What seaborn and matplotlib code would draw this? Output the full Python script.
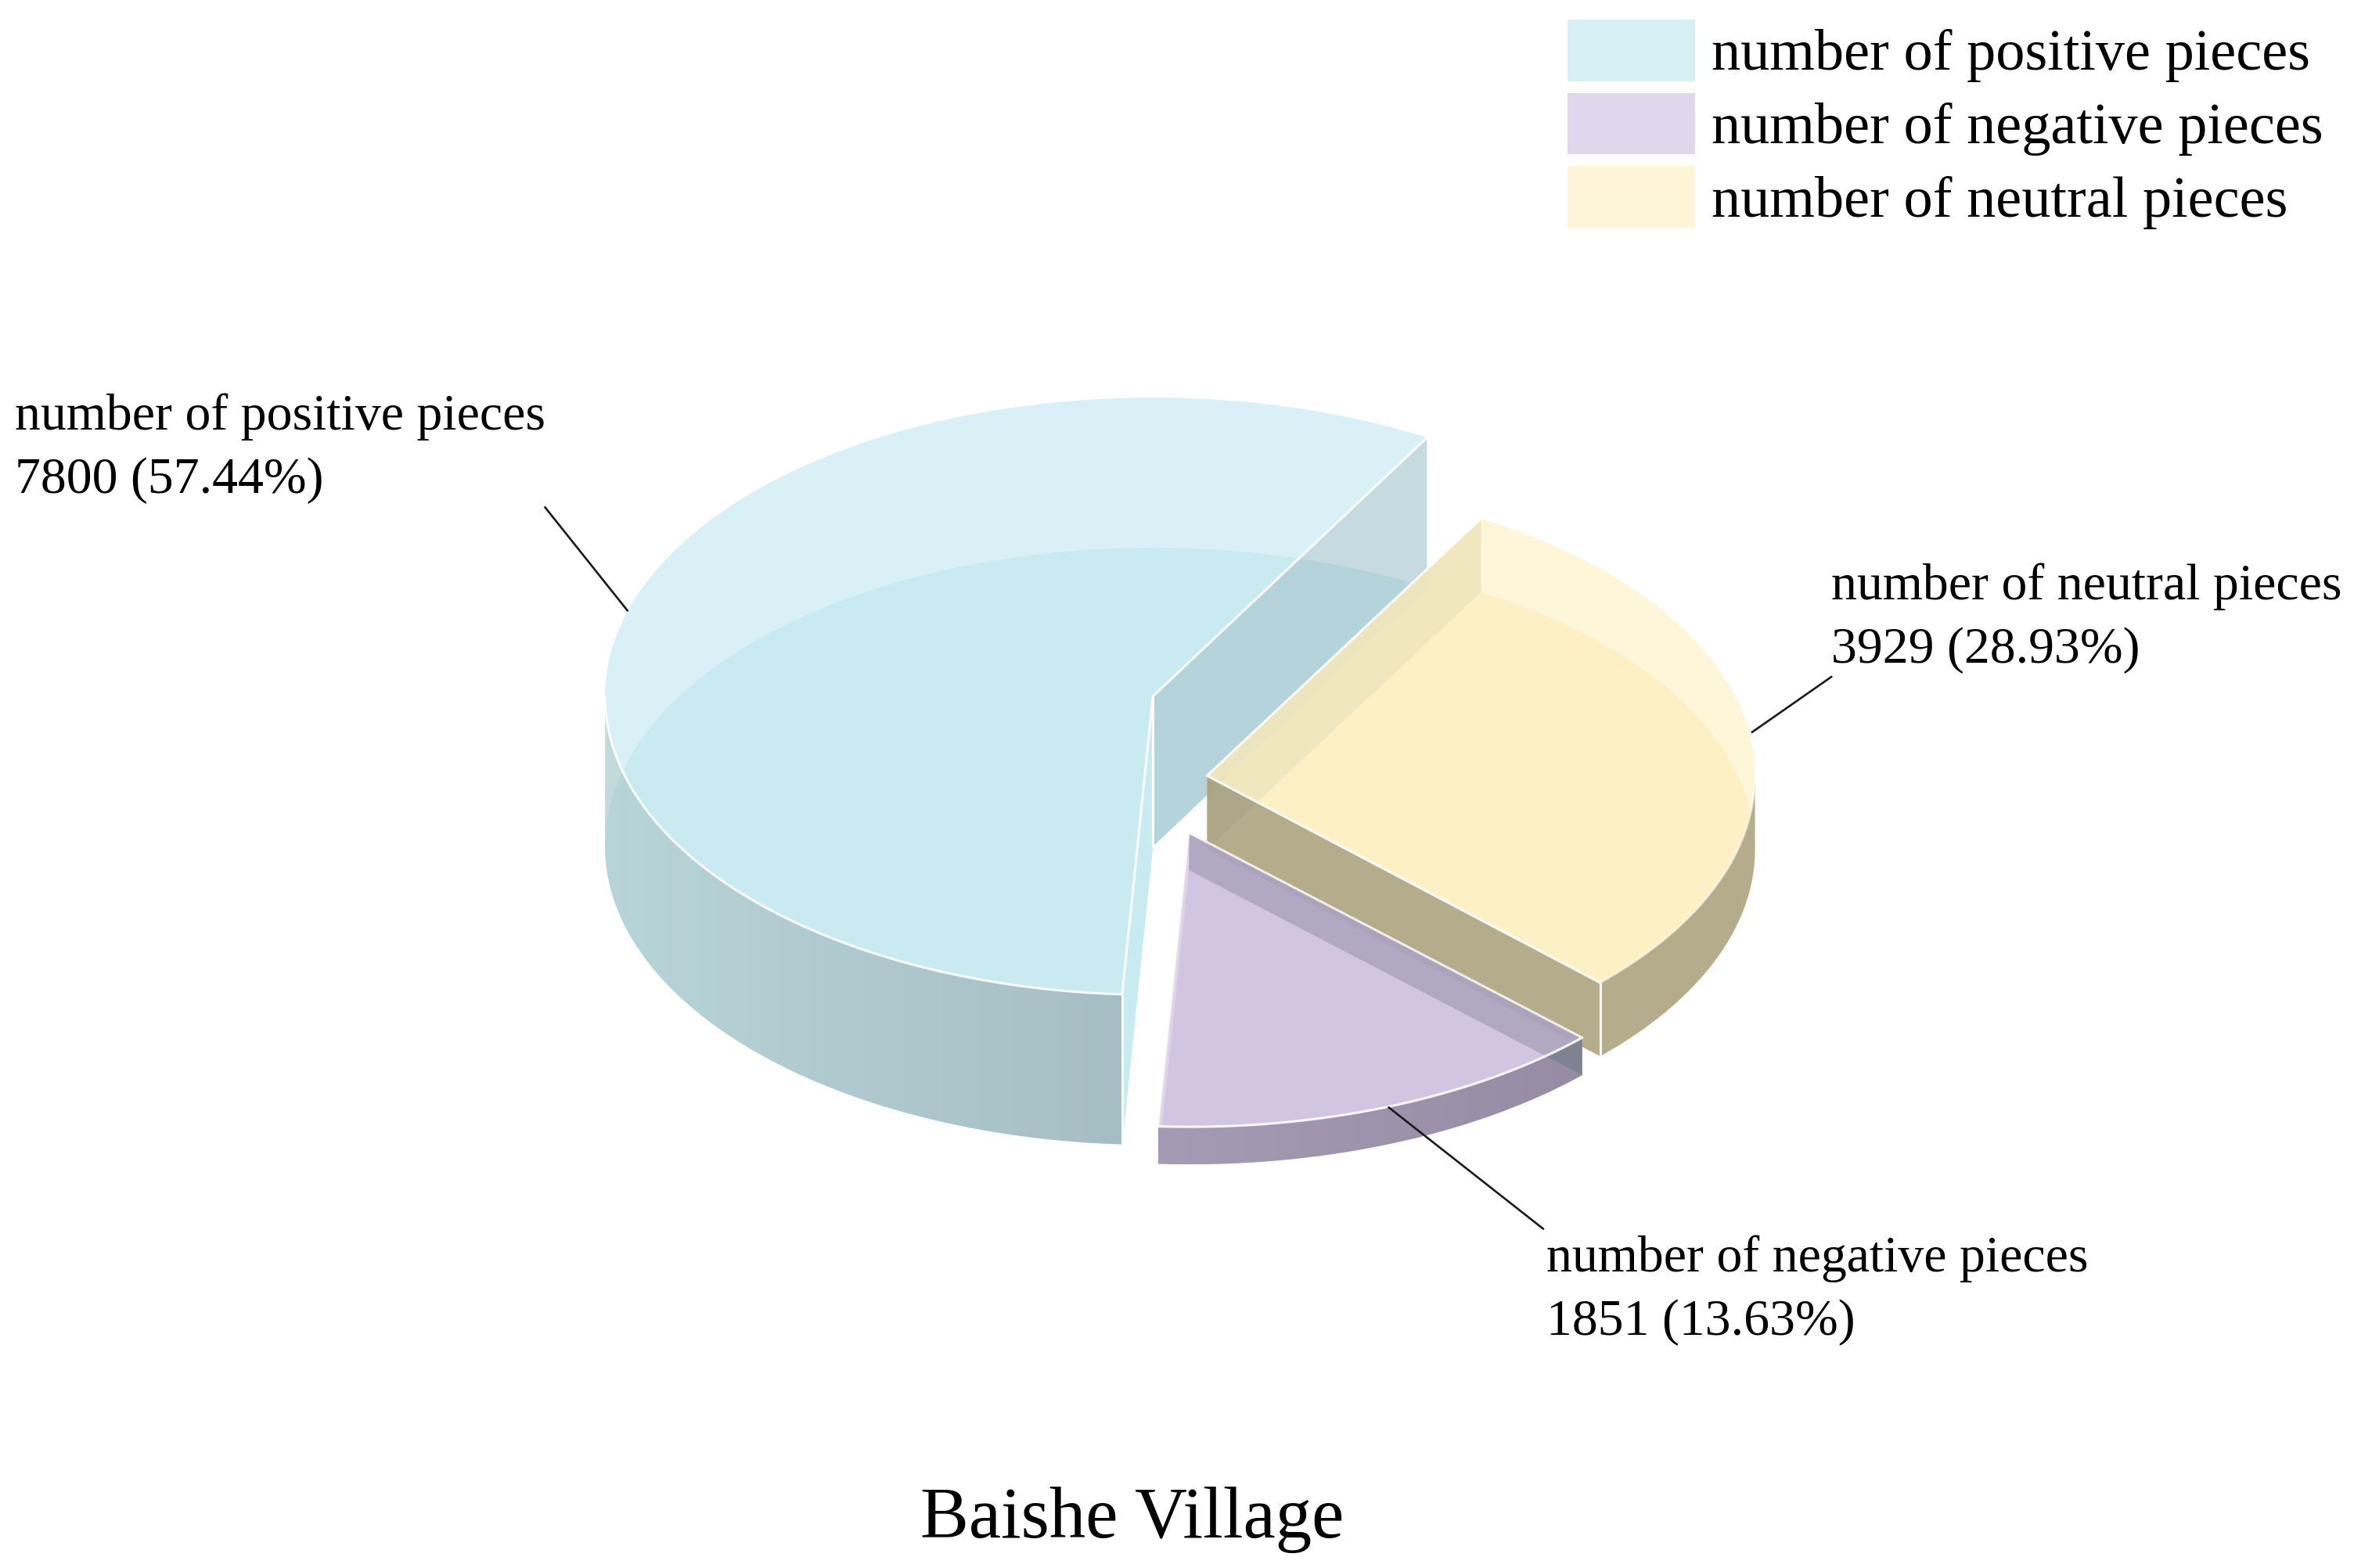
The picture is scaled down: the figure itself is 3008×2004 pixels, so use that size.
import numpy as np
import matplotlib
matplotlib.use("Agg")
import matplotlib.pyplot as plt
from matplotlib.patches import Patch, Polygon
import seaborn as sns

# chart values
categories = ["number of positive pieces", "number of negative pieces", "number of neutral pieces"]
counts = [7800, 1851, 3929]
title = "Baishe Village"
legend_colors = ["#d6f0f4", "#e0d7ec", "#fef5d8"]

sns.set_theme(style="white")
plt.rcParams["font.family"] = ["Liberation Serif", "DejaVu Serif"]

# layout works in the units of the shrunk picture (1568 wide)
RX = 365
START = 60.0
# x, y of the slice tip and the vertical radius of its ellipse
centers = [(768, 464, 199), (792, 555, 196), (804, 517, 198)]
depths = [100, 25, 49]


def rgb(*c):
    return tuple(v / 255 for v in c)


def on_arc(center, angle):
    t = np.radians(angle)
    return np.column_stack([center[0] + RX * np.cos(t), center[1] - center[2] * np.sin(t)])


def arc(center, a0, a1, n=160):
    return on_arc(center, np.linspace(a0, a1, n))


def sector(center, a0, a1):
    return np.vstack([[center[:2]], arc(center, a0, a1)])


def band(center, a0, a1, depth):
    top = arc(center, a0, a1)
    return np.vstack([top, (top + [0, depth])[::-1]])


def wall(center, angle, depth):
    tip = on_arc(center, np.array([angle]))[0]
    return np.array([center[:2], tip, tip + [0, depth], (center[0], center[1] + depth)])


def fill(ax, pts, color, alpha=1.0, z=2):
    ax.fill(pts[:, 0], pts[:, 1], color=color, alpha=alpha, lw=0, zorder=z)


def edge(ax, pts, z=2, lw=2.2, alpha=0.9):
    ax.plot(pts[:, 0], pts[:, 1], color="white", lw=lw, alpha=alpha, zorder=z, solid_capstyle="round")


def shaded(ax, pts, left, right, alpha, z):
    # side of a slice, darker towards the right
    grad = np.zeros((1, 256, 4))
    for i in range(3):
        grad[0, :, i] = np.linspace(left[i], right[i], 256) / 255
    grad[0, :, 3] = alpha
    im = ax.imshow(grad, extent=(pts[:, 0].min(), pts[:, 0].max(), pts[:, 1].max(), pts[:, 1].min()),
                   aspect="auto", interpolation="bilinear", zorder=z)
    clip = Polygon(pts, closed=True, transform=ax.transData, fc="none", ec="none")
    ax.add_patch(clip)
    im.set_clip_path(clip)


fig = plt.figure(figsize=(30.08, 20.04), dpi=100)
ax = fig.add_axes([0, 0, 1, 1])
ax.axis("off")

shares = np.array(counts) / sum(counts)
sweeps = shares * 360
a_pos = (START, START + sweeps[0])
a_neg = (a_pos[1], a_pos[1] + sweeps[1])
a_neu = (a_neg[1], a_neg[1] + sweeps[2])

# positive slice
c, d = centers[0], depths[0]
low = (c[0], c[1] + d, c[2])
fill(ax, sector(low, *a_pos), rgb(175, 221, 231), 0.5, z=2.0)
fill(ax, wall(c, a_pos[0], d), rgb(160, 195, 203), 0.6, z=2.1)
shaded(ax, band(c, 180, a_pos[1], d), (171, 203, 207), (145, 170, 176), 0.7, 2.2)
fill(ax, wall(c, a_pos[1], d), rgb(200, 235, 241), z=2.3)
fill(ax, sector(c, *a_pos), rgb(192, 233, 240), 0.6, z=2.4)
edge(ax, np.vstack([on_arc(c, np.array([a_pos[0]])), [c[:2]], on_arc(c, np.array([a_pos[1]]))]), z=2.5)
edge(ax, arc(c, 180, a_pos[1]), z=2.5)
edge(ax, wall(c, a_pos[1], d)[[0, 3]], z=2.5)
edge(ax, wall(c, a_pos[1], d)[[1, 2]], z=2.5)

# neutral slice
c, d = centers[2], depths[2]
low = (c[0], c[1] + d, c[2])
fill(ax, sector(low, *a_neu), rgb(255, 242, 205), z=3.0)
fill(ax, wall(c, a_neu[1], d), rgb(220, 214, 179), 0.85, z=3.1)
fill(ax, band(c, a_neu[0], 360, d), rgb(181, 172, 140), z=3.2)
fill(ax, wall(c, a_neu[0], d), rgb(156, 149, 119), 0.75, z=3.2)
fill(ax, sector(c, *a_neu), rgb(252, 240, 193), 0.6, z=3.3)
edge(ax, np.vstack([on_arc(c, np.array([a_neu[1]])), [c[:2]], on_arc(c, np.array([a_neu[0]]))]), z=3.4)
edge(ax, wall(c, a_neu[0], d)[[1, 2]], z=3.4)
edge(ax, arc(c, a_neu[0], 360), z=3.4, alpha=0.5)

# negative slice, sits over the foot of the neutral one
c, d = centers[1], depths[1]
low = (c[0], c[1] + d, c[2])
fill(ax, sector(low, *a_neg), rgb(227, 220, 235), z=4.0)
shaded(ax, band(c, *a_neg, d), (165, 155, 180), (150, 141, 165), 1.0, 4.1)
fill(ax, wall(c, a_neg[1], d), rgb(123, 129, 141), 0.83, z=4.2)
fill(ax, sector(c, *a_neg), rgb(200, 183, 220), 0.6, z=4.3)
edge(ax, np.vstack([on_arc(c, np.array([a_neg[1]])), [c[:2]]]), z=4.4, alpha=0.8)
edge(ax, arc(c, *a_neg), z=4.4)
edge(ax, sector(c, *a_neg)[[0, 1]], z=4.4, alpha=0.5)

# leader lines and labels
leaders = [((363, 338), (418, 407)), ((925, 738), (1028, 819)), ((1167, 488), (1220, 451))]
label_pos = [(10, 299), (1030, 860), (1220, 412)]
for name, n, share, (p0, p1), (tx, ty) in zip(categories, counts, shares, leaders, label_pos):
    ax.plot([p0[0], p1[0]], [p0[1], p1[1]], color="#1a1a1a", lw=1.9, zorder=5)
    ax.text(tx, ty, f"{name}\n{n} ({share * 100:.2f}%)", fontsize=47.3, color="black",
            ha="left", va="center", linespacing=1.46, zorder=6)

ax.text(754, 1013, title, fontsize=66.8, color="black", ha="center", va="center", zorder=6)

handles = [Patch(facecolor=col, edgecolor="none", label=name) for name, col in zip(categories, legend_colors)]
ax.legend(handles=handles, loc="upper left", bbox_to_anchor=(1044, 13), bbox_transform=ax.transData,
          frameon=False, fontsize=53.5, borderpad=0, borderaxespad=0,
          handlelength=2.2, handleheight=1.25, labelspacing=0.18, handletextpad=0.28, labelcolor="black")

ax.set_xlim(0, 1568)
ax.set_ylim(1045, 0)

fig.savefig("out.png", dpi=100, facecolor="white")
plt.close(fig)
